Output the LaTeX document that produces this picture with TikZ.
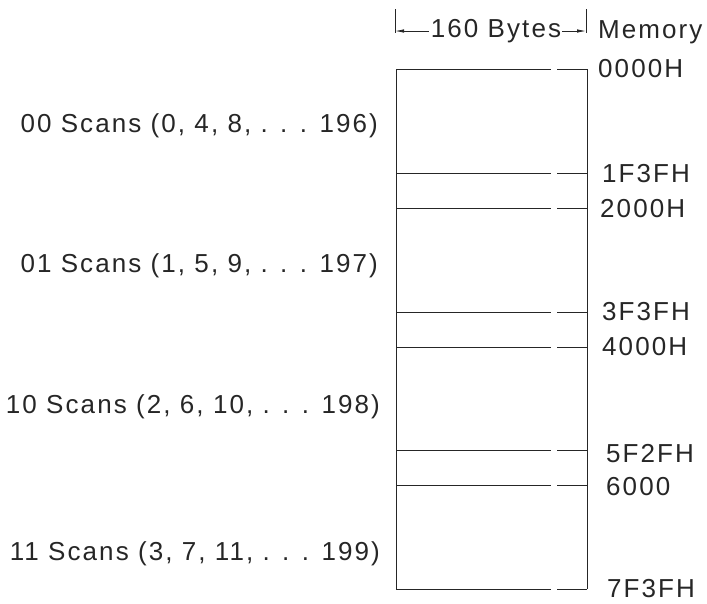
\documentclass[tikz,border=0pt]{standalone}
\usepackage{fontspec}
\setmainfont{Liberation Sans}[LetterSpace=8]
\usetikzlibrary{arrows.meta}
\begin{document}
\begin{tikzpicture}[x=1pt,y=-1pt,
  lab/.style={inner sep=0pt,font=\fontsize{26}{30}\selectfont,text=black!85},
  addr/.style={lab,anchor=base west},
  scan/.style={lab,anchor=base east},
  mem/.style={line width=0.9pt,draw=black!85},
  dim/.style={line width=0.8pt,draw=black!85,-{Latex[length=9pt,width=3.5pt]}}]
\useasboundingbox (0,0) rectangle (707,603);
% box
\draw[mem] (396,69) -- (396,589);
\draw[mem] (587,69) -- (587,589);
\foreach \y in {69,173,208,312,347,450,485,589}{
  \draw[mem] (396,\y) -- (551,\y);
  \draw[mem] (557,\y) -- (587,\y);
}
% dimension
\coordinate (dl) at (395,31);
\coordinate (dr) at (586,31);
\draw[mem,line width=0.8pt] (395,9) -- (395,33);
\draw[mem,line width=0.8pt] (586,9) -- (586,33);
\node[lab,anchor=base] (bytes) at (496,37) {160 Bytes};
\draw[dim] (bytes.west |- dl) ++(-2,0) -- (dl);
\draw[dim] (bytes.east |- dr) ++(1,0) -- (dr);
% memory addresses
\node[addr] (memory) at (598,38) {Memory};
\node[addr] (a0) at (598,77) {0000H};
\node[addr] (a1) at (602,182) {1F3FH};
\node[addr] (a2) at (600,217) {2000H};
\node[addr] (a3) at (602,320) {3F3FH};
\node[addr] (a4) at (602,355) {4000H};
\node[addr] (a5) at (606,462) {5F2FH};
\node[addr] (a6) at (606,495) {6000};
\node[addr] (a7) at (607,597) {7F3FH};
% scans
\node[scan] (s0) at (378,132) {00 Scans (0, 4, 8, . . . 196)};
\node[scan] (s1) at (378,272) {01 Scans (1, 5, 9, . . . 197)};
\node[scan] (s2) at (380,413) {10 Scans (2, 6, 10, . . . 198)};
\node[scan] (s3) at (380,560) {11 Scans (3, 7, 11, . . . 199)};
\end{tikzpicture}
\end{document}
